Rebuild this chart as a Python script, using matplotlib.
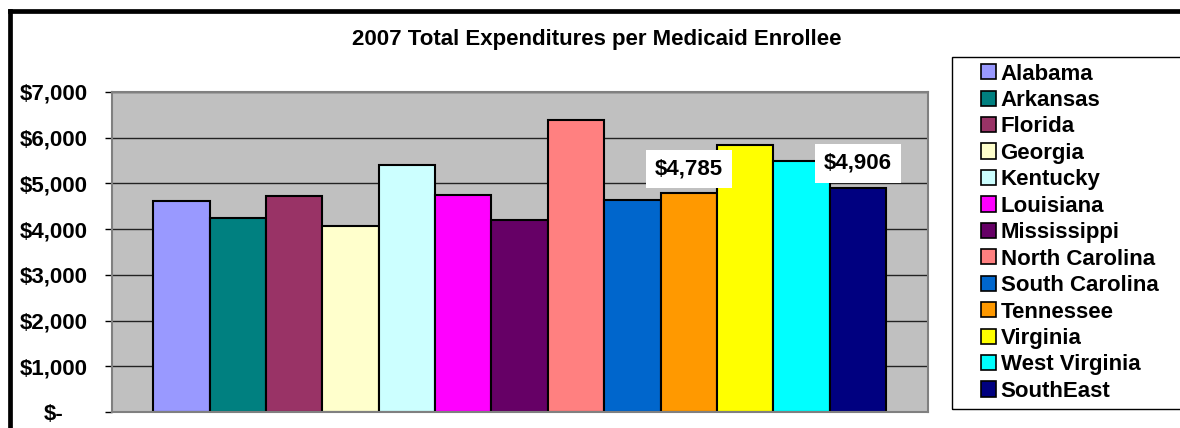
import matplotlib
matplotlib.use("Agg")
import matplotlib.pyplot as plt
from matplotlib.patches import Rectangle, Patch
from matplotlib.lines import Line2D
import matplotlib.transforms as mtrans

plt.rcParams['font.family'] = ['Liberation Sans', 'DejaVu Sans']
plt.rcParams['font.weight'] = 'bold'

# data
states = ["Alabama", "Arkansas", "Florida", "Georgia", "Kentucky", "Louisiana",
          "Mississippi", "North Carolina", "South Carolina", "Tennessee",
          "Virginia", "West Virginia", "SouthEast"]
spend = [4616, 4244, 4725, 4076, 5403, 4740, 4193, 6388, 4638, 4785, 5848, 5491, 4906]
colors = ["#9999FF", "#008080", "#993366", "#FFFFCC", "#CCFFFF", "#FF00FF",
          "#660066", "#FF8080", "#0066CC", "#FF9900", "#FFFF00", "#00FFFF", "#000080"]
labelled = ["Tennessee", "SouthEast"]
yticks = [0, 1000, 2000, 3000, 4000, 5000, 6000, 7000]

W, H = 1180, 428
fs = 16

fig = plt.figure(figsize=(W / 100, H / 100), dpi=100)
ax = fig.add_axes([112 / W, 1 - 412 / H, 816 / W, 320 / H])
ax.set_facecolor("#C0C0C0")

xs = list(range(len(states)))
ax.bar(xs, spend, width=1.0, color=colors, edgecolor="black", linewidth=1.5, zorder=2)

ax.set_xlim(-1.233, 13.245)
ax.set_ylim(0, 7000)
ax.set_yticks(yticks)
ax.set_yticklabels(["$-" if v == 0 else "${:,.0f}".format(v) for v in yticks],
                   fontsize=fs, fontweight="bold")
ax.set_xticks([])
ax.tick_params(axis="y", direction="out", length=5, width=1, color="black", pad=12.5)
ax.set_axisbelow(True)
ax.yaxis.grid(True, color="#222222", lw=1)
for sp in ax.spines.values():
    sp.set_color("#808080")
    sp.set_linewidth(1.5)

# the "$-" label sits left of the others
zl = ax.get_yticklabels()[0]
zl.set_transform(zl.get_transform() + mtrans.ScaledTranslation(-24 / 100, 0, fig.dpi_scale_trans))

# data labels
for i, s in enumerate(states):
    if s in labelled:
        ax.annotate("${:,.0f}".format(spend[i]), (xs[i], spend[i]),
                    xytext=(0, 17.5), textcoords="offset points",
                    ha="center", va="center", fontsize=fs, fontweight="bold",
                    bbox=dict(boxstyle="square,pad=0.4", fc="white", ec="none"), zorder=5)

fig.text(597 / W, 1 - 39 / H, "2007 Total Expenditures per Medicaid Enrollee",
         ha="center", va="center", fontsize=fs, fontweight="bold")

# legend with its own frame that runs off the right edge
fig.patches.append(Rectangle((951.5 / W, 1 - 409 / H), 0.3, (409 - 56.5) / H,
                             transform=fig.transFigure, fill=False, ec="black", lw=1))
handles = [Patch(facecolor=c, edgecolor="black", linewidth=1.2) for c in colors]
fig.legend(handles, states, loc="upper left", bbox_to_anchor=(981 / W, 1 - 63.5 / H),
           frameon=False, prop={"weight": "bold", "size": fs},
           handlelength=0.68, handleheight=0.68, handletextpad=0.2,
           labelspacing=0.245, borderpad=0, borderaxespad=0)

# outer chart border (left and top only visible)
fig.add_artist(Line2D([9.5 / W, 9.5 / W], [0, 1 - 10.5 / H], transform=fig.transFigure,
                      color="black", lw=3.4, solid_capstyle="projecting"))
fig.add_artist(Line2D([9.5 / W, 1.0], [1 - 10.5 / H, 1 - 10.5 / H], transform=fig.transFigure,
                      color="black", lw=3.4, solid_capstyle="projecting"))

fig.savefig("out.png", dpi=100, facecolor="white")
